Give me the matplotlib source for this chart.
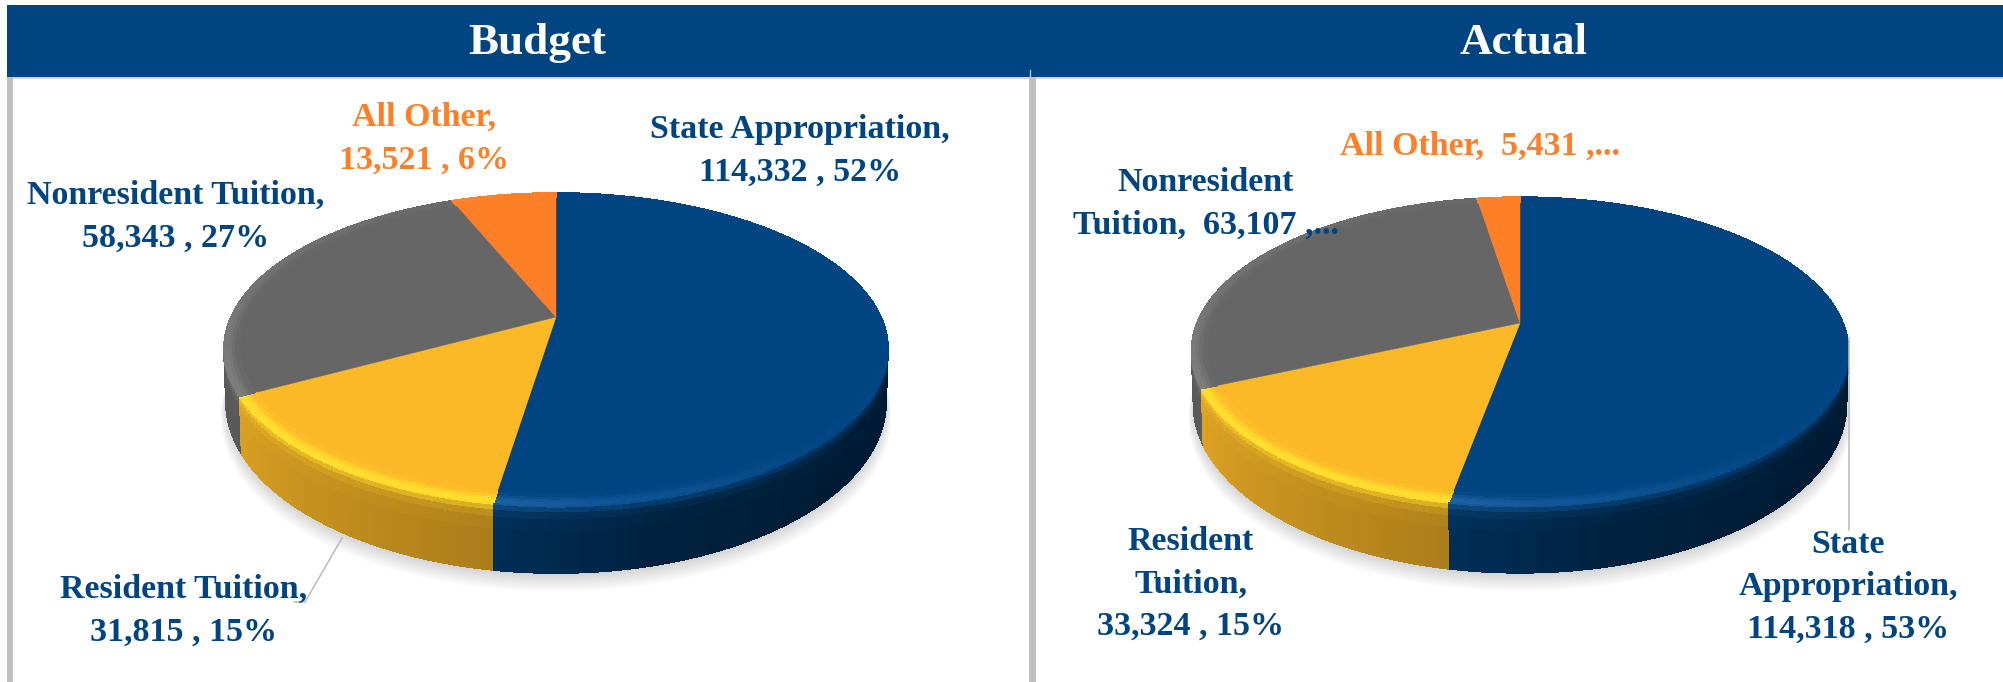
import numpy as np
import matplotlib
matplotlib.use("Agg")
import matplotlib.pyplot as plt
from matplotlib.collections import PolyCollection

plt.rcParams['font.family'] = ['Liberation Serif', 'DejaVu Serif']

# data
categories = ["State Appropriation", "Resident Tuition", "Nonresident Tuition", "All Other"]
budget_values = [114332, 31815, 58343, 13521]
actual_values = [114318, 33324, 63107, 5431]
panel_titles = ["Budget", "Actual"]

budget_labels = ["State Appropriation,\n114,332 , 52%", "Resident Tuition,\n31,815 , 15%",
                 "Nonresident Tuition,\n58,343 , 27%", "All Other,\n13,521 , 6%"]
actual_labels = ["State\nAppropriation,\n114,318 , 53%", "Resident\nTuition,\n33,324 , 15%",
                 "Nonresident\nTuition,  63,107 ,...", "All Other,  5,431 ,..."]

NAVY = "#004481"
ORANGE = "#FF7F27"
slice_rgb = [(0, 68, 129), (251, 184, 39), (102, 102, 102), (255, 127, 39)]
light_rgb = [(28, 98, 165), (255, 222, 45), (125, 125, 125), (255, 150, 70)]
label_colors = [NAVY, NAVY, NAVY, ORANGE]

fig = plt.figure(figsize=(20.03, 6.82), dpi=100)
ax = fig.add_axes([0, 0, 1, 1])
ax.set_xlim(0, 2003)
ax.set_ylim(682, 0)
ax.axis("off")


def project(theta, r, d, g):
    # theta in degrees clockwise from the back of the disc, perspective disc
    t = np.radians(theta)
    u = r * np.sin(t)
    v = -r * np.cos(t)
    den = 1 + g["c"] * v
    x = g["R"] * u / den
    y = (g["a"] * v + g["ay"]) / den
    # the lower rim is a bit taller than the top one
    y = y + d * (g["drop"] + (y - g["midy"]) * 0.097)
    return g["cx"] + x * (1 - 0.006 * d), y


def side_shade(theta):
    return np.interp(theta, [0, 90, 130, 165, 189, 245, 290, 360],
                     [.42, .38, .40, .48, .68, .88, .85, .85])


def highlight(theta):
    return np.interp(theta, [0, 100, 140, 175, 190, 250, 290, 360],
                     [0, 0, .1, .6, 1, 1, .5, 0])


def draw_pie(values, g):
    values = np.array(values, dtype=float)
    edges = np.concatenate([[0], np.cumsum(values) / values.sum() * 360])

    # soft shadow under the disc
    tt = np.linspace(0, 360, 181)
    for k in range(14):
        x, y = project(tt, 1 + k * 0.0012, 1, g)
        ax.fill(x, y + 2 + k * 1.0, color="k", alpha=0.012, lw=0, zorder=1)

    # side wall, far strips first
    polys, cols = [], []
    depths = np.array([0, .05, .12, .22, .4, 1])
    fades = [1, .55, .2, .05, 0]
    strips = []
    for i in range(4):
        n = max(int(edges[i + 1] - edges[i]), 1) + 1
        th = np.linspace(edges[i], edges[i + 1], n + 1)
        for a, b in zip(th[:-1], th[1:]):
            strips.append((-np.cos(np.radians((a + b) / 2)), a, b, i))
    strips.sort()
    for _, a, b, i in strips:
        m = (a + b) / 2
        base = np.array(slice_rgb[i], dtype=float)
        light = np.array(light_rgb[i], dtype=float)
        edge = base + (light - base) * 0.8 * highlight(m)
        wall = base * side_shade(m)
        for j in range(len(depths) - 1):
            x1, y1 = project(np.array([a, b]), 1, depths[j], g)
            x2, y2 = project(np.array([b, a]), 1, depths[j + 1], g)
            polys.append(np.column_stack([np.r_[x1, x2], np.r_[y1, y2]]))
            cols.append((wall + (edge - wall) * fades[j]) / 255)
    ax.add_collection(PolyCollection(polys, facecolors=cols, edgecolors=cols, linewidths=0.5,
                                     antialiaseds=False, zorder=2))

    # top of the disc
    for i in range(4):
        th = np.linspace(edges[i], edges[i + 1], 120)
        x, y = project(th, 1, 0, g)
        ax.fill(np.r_[g["cx"], x], np.r_[g["ay"], y], color=np.array(slice_rgb[i]) / 255, lw=0.3, zorder=3)

    # bevel along the rim of the top
    polys, cols = [], []
    radii = np.array([.955, .97, .98, .99, 1.0])
    weights = [.15, .45, .8, 1]
    for i in range(4):
        n = max(int(edges[i + 1] - edges[i]), 1) + 1
        th = np.linspace(edges[i], edges[i + 1], n + 1)
        base = np.array(slice_rgb[i], dtype=float)
        light = np.array(light_rgb[i], dtype=float)
        for a, b in zip(th[:-1], th[1:]):
            hs = highlight((a + b) / 2)
            if hs <= 0:
                continue
            for j in range(len(radii) - 1):
                x1, y1 = project(np.array([a, b]), radii[j], 0, g)
                x2, y2 = project(np.array([b, a]), radii[j + 1], 0, g)
                polys.append(np.column_stack([np.r_[x1, x2], np.r_[y1, y2]]))
                cols.append((base + (light - base) * weights[j] * hs) / 255)
    ax.add_collection(PolyCollection(polys, facecolors=cols, edgecolors=cols, linewidths=0.4,
                                     antialiaseds=False, zorder=4))


# header and frame
ax.fill_between([7, 2003], 5, 77, color="#004582", lw=0, zorder=5)
ax.plot([7, 2003], [78, 78], color="#c8d0d8", lw=1.2, zorder=5)
ax.fill_between([7, 13], 77, 682, color="#bfbfbf", lw=0, zorder=5)
ax.fill_between([1029, 1036], 77, 682, color="#bfbfbf", lw=0, zorder=5)
ax.plot([1030, 1030], [70, 77], color="#bfbfbf", lw=1, zorder=5)

budget_geom = dict(cx=556, ay=317, R=325, a=84.5, c=-0.205, drop=53, midy=350)
actual_geom = dict(cx=1520, ay=323, R=323, a=90, c=-0.182, drop=53, midy=351)

# leader lines under the labels
ax.plot([342, 305, 294], [538, 602, 602], color="#bfbfbf", lw=1.2, zorder=1.5)
draw_pie(budget_values, budget_geom)
draw_pie(actual_values, actual_geom)
ax.plot([1849, 1849], [338, 530], color="#bfbfbf", lw=1.2, zorder=6)

ax.text(537, 43, panel_titles[0], color="w", fontsize=32.5, fontweight="bold", ha="center", va="center", zorder=7)
ax.text(1523, 43, panel_titles[1], color="w", fontsize=32.5, fontweight="bold", ha="center", va="center", zorder=7)

budget_pos = [(800, 151), (184, 611), (176, 217), (424, 139)]
actual_pos = [(1848, 587), (1191, 584), (1206, 204), (1480, 146)]
for txt, col, p in zip(budget_labels, label_colors, budget_pos):
    ax.text(p[0], p[1], txt, color=col, fontsize=24.5, fontweight="bold", ha="center", va="center",
            linespacing=1.48, zorder=7)
for txt, col, p in zip(actual_labels, label_colors, actual_pos):
    ax.text(p[0], p[1], txt, color=col, fontsize=24.5, fontweight="bold", ha="center", va="center",
            linespacing=1.48, zorder=7)

fig.savefig("out.png", dpi=100)
